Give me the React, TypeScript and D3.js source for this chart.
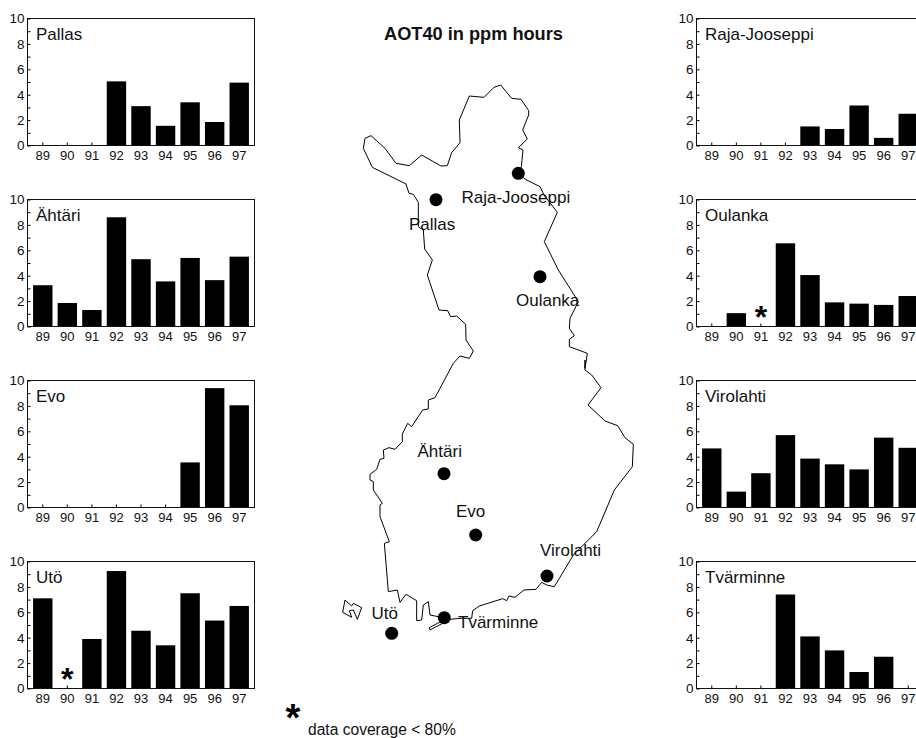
import React, { useEffect, useRef } from "react"
import * as d3 from "d3"

const years = ["89", "90", "91", "92", "93", "94", "95", "96", "97"]
const yTicks = [0, 2, 4, 6, 8, 10]
const yMinor = [1, 3, 5, 7, 9]

// AOT40 per year, null = no bar
const pallas = [null, null, null, 5.05, 3.1, 1.55, 3.4, 1.85, 4.95]
const ahtari = [3.25, 1.85, 1.3, 8.6, 5.3, 3.55, 5.4, 3.65, 5.5]
const evo = [null, null, null, null, null, null, 3.55, 9.4, 8.05]
const uto = [7.1, null, 3.9, 9.25, 4.55, 3.4, 7.5, 5.35, 6.5]
const raja = [null, null, null, null, 1.5, 1.3, 3.15, 0.6, 2.5]
const oulanka = [null, 1.05, null, 6.55, 4.05, 1.9, 1.8, 1.7, 2.4]
const virolahti = [4.65, 1.25, 2.7, 5.7, 3.85, 3.4, 3.0, 5.5, 4.7]
const tvarminne = [null, null, null, 7.4, 4.1, 3.0, 1.3, 2.5, null]

const panels = [
  { name: "Pallas", values: pallas, left: 27.5, top: 18.5, star: null },
  { name: "Ähtäri", values: ahtari, left: 27.5, top: 199.5, star: null },
  { name: "Evo", values: evo, left: 27.5, top: 380.5, star: null },
  { name: "Utö", values: uto, left: 27.5, top: 561.5, star: "90" },
  { name: "Raja-Jooseppi", values: raja, left: 696.5, top: 18.5, star: null },
  { name: "Oulanka", values: oulanka, left: 696.5, top: 199.5, star: "91" },
  { name: "Virolahti", values: virolahti, left: 696.5, top: 380.5, star: null },
  { name: "Tvärminne", values: tvarminne, left: 696.5, top: 561.5, star: null },
]

// map outline, traced in two sheets of the map
const outlineNorth = [
  [70, 235], [75, 205], [93, 197], [135, 235], [168, 280], [208, 287], [245, 255], [303, 288],
  [322, 287], [335, 248], [360, 218], [358, 150], [388, 78], [432, 82], [462, 52], [482, 45],
  [515, 85], [543, 88], [566, 122], [566, 135], [548, 180], [562, 207], [535, 233], [549, 240],
  [544, 290], [535, 310], [556, 328], [600, 350], [612, 375], [652, 427], [613, 515], [655, 600],
  [693, 660], [715, 695], [690, 745], [688, 775], [703, 797], [688, 808], [688, 830], [742, 850],
  [735, 895],
]
const outlineSouth = [
  [795, 0], [795, 30], [815, 45], [843, 83], [804, 135], [855, 183], [893, 197], [915, 233],
  [940, 253], [937, 320], [883, 390], [830, 515], [760, 585], [703, 680], [680, 675], [665, 667],
  [648, 688], [612, 690], [585, 712], [567, 708], [560, 722], [548, 716], [478, 738], [458, 752],
  [455, 775], [420, 775], [390, 778], [330, 810], [328, 803], [362, 785], [355, 770], [330, 765],
  [325, 725], [310, 735], [305, 780], [290, 782], [290, 722], [258, 703], [240, 727], [232, 690],
  [205, 695], [193, 550], [208, 545], [180, 470], [180, 435], [187, 430], [160, 390], [160, 365],
  [150, 360], [150, 343], [170, 328], [180, 298], [192, 295], [190, 270], [207, 263], [225, 268],
  [247, 245], [247, 222], [263, 190], [275, 200], [308, 150], [325, 147], [325, 120], [345, 113],
  [400, 10],
]
const outlineWest = [
  [360, 858], [388, 865], [400, 843], [378, 810], [377, 763], [350, 738], [332, 740], [323, 722],
  [297, 720], [262, 615], [277, 570], [254, 537], [250, 480], [235, 470], [235, 397], [220, 373],
  [207, 370], [198, 342], [97, 292], [70, 235],
]
const island = [
  [30, 30], [50, 48], [55, 40], [80, 53], [67, 88], [55, 60], [43, 62], [50, 82], [23, 67],
]

const sites = [
  { name: "Pallas", x: 436, y: 199.7, tx: 409, ty: 230 },
  { name: "Raja-Jooseppi", x: 518.3, y: 173.3, tx: 461.5, ty: 202.5 },
  { name: "Oulanka", x: 540, y: 276.7, tx: 516, ty: 306 },
  { name: "Ähtäri", x: 444, y: 473.7, tx: 417.5, ty: 456.5 },
  { name: "Evo", x: 475.7, y: 535, tx: 456, ty: 516.5 },
  { name: "Virolahti", x: 547, y: 576, tx: 540, ty: 555.5 },
  { name: "Tvärminne", x: 444.3, y: 617.7, tx: 458, ty: 628 },
  { name: "Utö", x: 391.7, y: 633.3, tx: 371.5, ty: 619 },
]

const panelW = 227
const panelH = 127
const font = "'Liberation Sans', Arial, sans-serif"

export default function App() {
  const ref = useRef<SVGSVGElement>(null)

  useEffect(() => {
    const svg = d3.select(ref.current)
    svg.selectAll("*").remove()

    const x = d3.scaleBand().domain(years).range([3, panelW - 3]).paddingInner(0.21).paddingOuter(0.105)
    const y = d3.scaleLinear().domain([0, 10]).range([panelH, 0])

    panels.forEach((p) => {
      const g = svg.append("g").attr("transform", `translate(${p.left},${p.top})`)

      g.selectAll("rect.bar")
        .data(p.values.map((v, i) => ({ v, year: years[i] })).filter((d) => d.v !== null))
        .enter()
        .append("rect")
        .attr("class", "bar")
        .attr("x", (d) => x(d.year))
        .attr("y", (d) => y(d.v))
        .attr("width", x.bandwidth())
        .attr("height", (d) => panelH - y(d.v))
        .attr("fill", "#000")

      g.append("rect")
        .attr("width", panelW)
        .attr("height", panelH)
        .attr("fill", "none")
        .attr("stroke", "#111")
        .attr("stroke-width", 1)

      const xAxis = g
        .append("g")
        .attr("transform", `translate(0,${panelH})`)
        .call(d3.axisBottom(x).tickSizeInner(-3).tickSizeOuter(0).tickPadding(5))
      const yAxis = g.append("g").call(d3.axisLeft(y).tickValues(yTicks).tickSizeInner(-3).tickSizeOuter(0).tickPadding(3))
      g.append("g").call(d3.axisLeft(y).tickValues(yMinor).tickSizeInner(-3).tickSizeOuter(0).tickFormat(() => ""))

      xAxis.selectAll("text").attr("font-size", 13).attr("font-family", font).attr("fill", "#111")
      yAxis.selectAll("text").attr("font-size", 13.5).attr("font-family", font).attr("fill", "#111")
      g.selectAll(".domain").remove()

      g.append("text")
        .attr("x", 8.5)
        .attr("y", 21)
        .attr("font-size", 17)
        .attr("font-family", font)
        .attr("fill", "#111")
        .text(p.name)

      if (p.star) {
        g.append("text")
          .attr("x", x(p.star) + x.bandwidth() / 2)
          .attr("y", panelH + 1)
          .attr("text-anchor", "middle")
          .attr("font-size", 32)
          .attr("font-weight", "bold")
          .attr("font-family", font)
          .text("*")
      }
    })

    // map
    const north = (d: number[]) => [340 + d[0] / 3, 70 + d[1] / 3]
    const south = (d: number[]) => [320 + d[0] / 3, 360 + d[1] / 3]
    const line = d3.line()
    const outline = [...outlineNorth.map(north), ...outlineSouth.map(south), ...outlineWest.map(north)]
    const isle = island.map((d) => [335 + d[0] / 3, 590 + d[1] / 3])

    svg.append("path").attr("d", line(outline)).attr("fill", "none").attr("stroke", "#000").attr("stroke-width", 1)
    svg.append("path").attr("d", line(isle) + "Z").attr("fill", "none").attr("stroke", "#000").attr("stroke-width", 1)

    svg.selectAll("circle")
      .data(sites)
      .enter()
      .append("circle")
      .attr("cx", (d) => d.x)
      .attr("cy", (d) => d.y)
      .attr("r", 6.5)
      .attr("fill", "#000")

    svg.selectAll("text.site")
      .data(sites)
      .enter()
      .append("text")
      .attr("class", "site")
      .attr("x", (d) => d.tx)
      .attr("y", (d) => d.ty)
      .attr("font-size", 17)
      .attr("font-family", font)
      .attr("fill", "#111")
      .text((d) => d.name)

    svg.append("text")
      .attr("x", 473.5)
      .attr("y", 40)
      .attr("text-anchor", "middle")
      .attr("font-size", 18.2)
      .attr("font-weight", "bold")
      .attr("font-family", font)
      .attr("fill", "#111")
      .text("AOT40 in ppm hours")

    svg.append("text")
      .attr("x", 293)
      .attr("y", 731)
      .attr("text-anchor", "middle")
      .attr("font-size", 38)
      .attr("font-weight", "bold")
      .attr("font-family", font)
      .text("*")

    svg.append("text")
      .attr("x", 308)
      .attr("y", 735)
      .attr("font-size", 15.6)
      .attr("font-family", font)
      .attr("fill", "#111")
      .text("data coverage < 80%")
  }, [])

  return (
    <svg
      ref={ref}
      width={916}
      height={738}
      style={{ position: "absolute", left: 0, top: 0, display: "block", background: "#fff" }}
    />
  )
}
